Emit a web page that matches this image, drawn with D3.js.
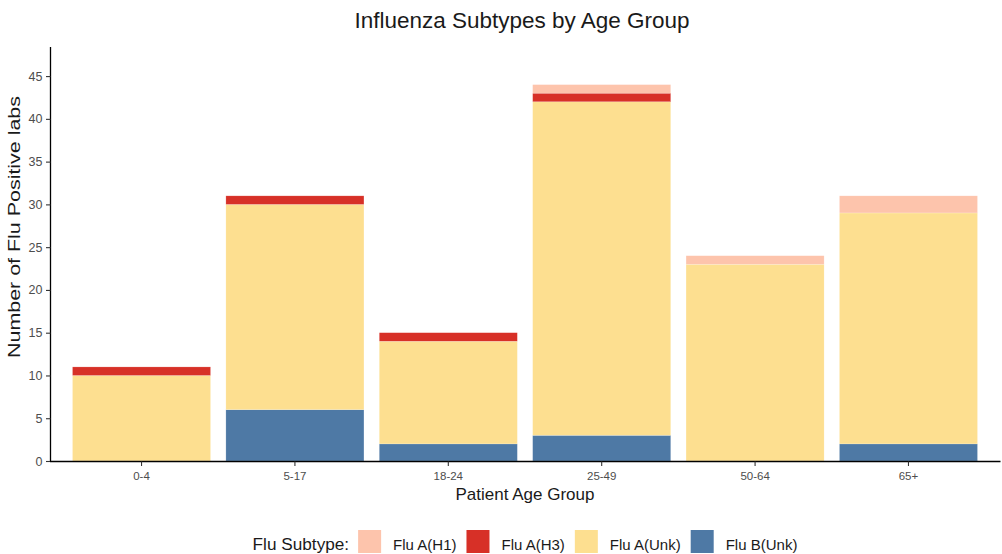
<!DOCTYPE html>
<html>
<head>
<meta charset="utf-8">
<script src="https://cdn.jsdelivr.net/npm/d3@7"></script>
<style>
  html, body { margin: 0; padding: 0; background: #fff; }
  svg { display: block; font-family: "Liberation Sans", Arial, sans-serif; }
</style>
</head>
<body>
<svg id="chart" width="1002" height="554"></svg>
<script>
// ---- data ----
const ageGroups = ["0-4", "5-17", "18-24", "25-49", "50-64", "65+"];
const subtypes = ["Flu A(H1)", "Flu A(H3)", "Flu A(Unk)", "Flu B(Unk)"];
const fluA_H1  = [0, 0, 0, 1, 1, 2];
const fluA_H3  = [1, 1, 1, 1, 0, 0];
const fluA_Unk = [10, 24, 12, 39, 23, 27];
const fluB_Unk = [0, 6, 2, 3, 0, 2];
const yTicks = [0, 5, 10, 15, 20, 25, 30, 35, 40, 45];
const subtypeColors = ["#fdc4ac", "#d73027", "#fddf90", "#4e79a5"];

const seriesBySubtype = {
  "Flu A(H1)": fluA_H1,
  "Flu A(H3)": fluA_H3,
  "Flu A(Unk)": fluA_Unk,
  "Flu B(Unk)": fluB_Unk
};

// rows for stacking
const rows = ageGroups.map((g, i) => {
  const r = { group: g };
  subtypes.forEach(s => r[s] = seriesBySubtype[s][i]);
  return r;
});

// stack bottom-to-top: B, Unk, H3, H1
const stackOrder = ["Flu B(Unk)", "Flu A(Unk)", "Flu A(H3)", "Flu A(H1)"];
const stacked = d3.stack().keys(stackOrder)(rows);

const svg = d3.select("#chart");
const color = d3.scaleOrdinal().domain(subtypes).range(subtypeColors);

const panel = { left: 50, right: 1000.5, top: 47, bottom: 461 };

const x = d3.scaleBand()
  .domain(ageGroups)
  .range([panel.left - 0.5, panel.right])
  .paddingInner(0.1)
  .paddingOuter(0.15);

const y = d3.scaleLinear()
  .domain([0, 48.4])
  .range([panel.bottom, panel.top]);

// bars
svg.append("g")
  .selectAll("g")
  .data(stacked)
  .join("g")
  .attr("fill", d => color(d.key))
  .selectAll("rect")
  .data(d => d)
  .join("rect")
  .attr("x", d => x(d.data.group))
  .attr("width", x.bandwidth())
  .attr("y", d => y(d[1]))
  .attr("height", d => Math.max(0, y(d[0]) - y(d[1])))
  .attr("stroke", "#ffffff")
  .attr("stroke-opacity", 0.35)
  .attr("stroke-width", 0.5);

// y axis
const yAxis = svg.append("g")
  .attr("transform", `translate(${panel.left + 0.5},0)`)
  .call(d3.axisLeft(y).tickValues(yTicks).tickSize(4.5).tickPadding(3.5).tickSizeOuter(0));
yAxis.select(".domain").attr("stroke", "#000").attr("stroke-width", 1.3)
  .attr("d", `M0,${panel.top}V${panel.bottom}`);
yAxis.selectAll(".tick line").attr("stroke", "#333").attr("stroke-width", 1.1);
yAxis.selectAll(".tick text").attr("fill", "#4d4d4d").attr("font-size", 12.5)
  .attr("font-family", "Liberation Sans, Arial, sans-serif");

// x axis
const xAxis = svg.append("g")
  .attr("transform", `translate(0,${panel.bottom + 0.5})`)
  .call(d3.axisBottom(x).tickSize(4.5).tickPadding(6).tickSizeOuter(0));
xAxis.select(".domain").attr("stroke", "#000").attr("stroke-width", 1.3)
  .attr("d", `M${panel.left},0H${panel.right}`);
xAxis.selectAll(".tick line").attr("stroke", "#333").attr("stroke-width", 1.1);
xAxis.selectAll(".tick text").attr("fill", "#4d4d4d").attr("font-size", 11.5)
  .attr("font-family", "Liberation Sans, Arial, sans-serif");

// title
svg.append("text")
  .attr("x", 522).attr("y", 28)
  .attr("text-anchor", "middle")
  .attr("font-size", 22.5)
  .attr("fill", "#1a1a1a")
  .text("Influenza Subtypes by Age Group");

// axis titles
svg.append("text")
  .attr("x", 525).attr("y", 500)
  .attr("text-anchor", "middle")
  .attr("font-size", 17)
  .attr("fill", "#1a1a1a")
  .text("Patient Age Group");

svg.append("text")
  .attr("transform", `translate(20,227) rotate(-90)`)
  .attr("text-anchor", "middle")
  .attr("font-size", 16.5)
  .attr("textLength", 262)
  .attr("lengthAdjust", "spacingAndGlyphs")
  .attr("fill", "#1a1a1a")
  .text("Number of Flu Positive labs");

// legend
const legend = svg.append("g");
const legendTitle = legend.append("text")
  .attr("x", 0).attr("y", 0)
  .attr("font-size", 17.2)
  .attr("fill", "#1a1a1a")
  .text("Flu Subtype:");
let cursor = legendTitle.node().getComputedTextLength() + 9;
const keySize = 23;
subtypes.forEach((s, i) => {
  legend.append("rect")
    .attr("x", cursor).attr("y", -20)
    .attr("width", keySize).attr("height", keySize)
    .attr("fill", color(s));
  cursor += keySize + 12;
  const t = legend.append("text")
    .attr("x", cursor).attr("y", 0)
    .attr("font-size", 15)
    .attr("fill", "#1a1a1a")
    .text(s);
  cursor += t.node().getComputedTextLength() + (i < subtypes.length - 1 ? 10 : 0);
});
const legendCenter = 525;
legend.attr("transform", `translate(${legendCenter - cursor / 2},550)`);
</script>
</body>
</html>
